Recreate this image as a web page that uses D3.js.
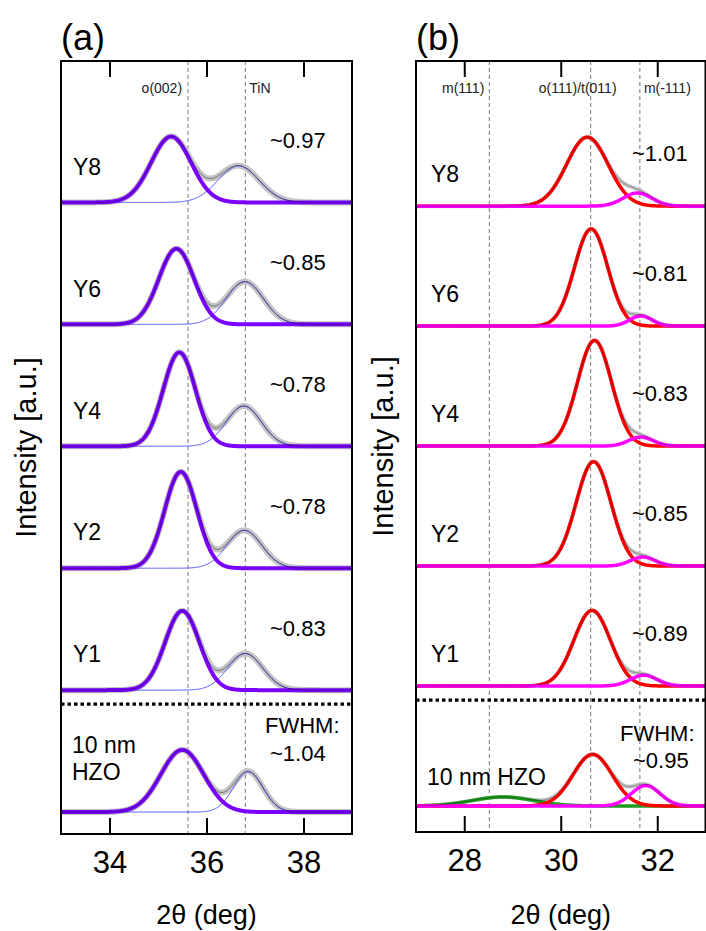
<!DOCTYPE html>
<html>
<head>
<meta charset="utf-8">
<script src="https://cdnjs.cloudflare.com/ajax/libs/d3/7.8.5/d3.min.js"></script>
<style>
  html, body { margin: 0; padding: 0; background: #fff; }
  svg { display: block; font-family: "Liberation Sans", Arial, sans-serif; }
</style>
</head>
<body>
<svg id="chart" width="706" height="931"></svg>
<script>
// ---------------- DATA ----------------
// Panel (a): o(002) + TiN peaks
const samplesA = ["Y8", "Y6", "Y4", "Y2", "Y1", "10 nm HZO"];
const offsetsA = [5, 4, 3, 2, 1, 0];
const o002Center = [35.27, 35.38, 35.44, 35.47, 35.50, 35.50];
const o002Height = [0.54, 0.62, 0.77, 0.79, 0.65, 0.51];
const o002Fwhm   = [0.97, 0.85, 0.78, 0.78, 0.83, 1.04];
const tinCenter  = [36.66, 36.79, 36.77, 36.78, 36.80, 36.86];
const tinHeight  = [0.30, 0.35, 0.33, 0.31, 0.30, 0.33];
const tinFwhm    = [1.00, 0.90, 0.85, 0.85, 0.85, 0.72];
const fwhmLabelsA = ["~0.97", "~0.85", "~0.78", "~0.78", "~0.83", "~1.04"];
const refLinesA = [35.62, 36.80];
const phaseLabelsA = ["o(002)", "TiN"];
const ticksA = [34, 36, 38];
const domainA = [33, 39];
const sepA = 0.885;

// Panel (b): m(111), o(111)/t(011), m(-111) peaks
const samplesB = ["Y8", "Y6", "Y4", "Y2", "Y1", "10 nm HZO"];
const offsetsB = [5, 4, 3, 2, 1, 0];
const o111Center = [30.55, 30.63, 30.70, 30.68, 30.65, 30.66];
const o111Height = [0.575, 0.81, 0.88, 0.87, 0.63, 0.43];
const o111Fwhm   = [1.01, 0.81, 0.83, 0.85, 0.89, 0.95];
const m111bCenter = [31.59, 31.66, 31.66, 31.70, 31.72, 31.76];
const m111bHeight = [0.11, 0.085, 0.075, 0.075, 0.09, 0.17];
const m111bFwhm   = [0.70, 0.55, 0.60, 0.60, 0.65, 0.70];
const m111Center = [null, null, null, null, null, 28.80];
const m111Height = [0, 0, 0, 0, 0, 0.075];
const m111Fwhm   = [1, 1, 1, 1, 1, 1.50];
const fwhmLabelsB = ["~1.01", "~0.81", "~0.83", "~0.85", "~0.89", "~0.95"];
const refLinesB = [28.52, 30.62, 31.64];
const phaseLabelsB = ["m(111)", "o(111)/t(011)", "m(-111)"];
const ticksB = [28, 30, 32];
const domainB = [27, 33];
const sepB = 0.883;

// ---------------- DRAWING ----------------
const svg = d3.select("#chart");
const FONT = '"Liberation Sans", Arial, sans-serif';

function gauss(x, c, h, fwhm) {
  if (c === null || h === 0) return 0;
  const s = fwhm / 2.3548;
  return h * Math.exp(-0.5 * ((x - c) / s) * ((x - c) / s));
}

function drawPanel(cfg) {
  const { id, px0, px1, py0, py1, xDomain, yDomain } = cfg;
  const x = d3.scaleLinear().domain(xDomain).range([px0, px1]);
  const y = d3.scaleLinear().domain(yDomain).range([py1, py0]);
  const g = svg.append("g");

  const clipId = "clip-" + id;
  svg.append("clipPath").attr("id", clipId)
    .append("rect").attr("x", px0).attr("y", py0)
    .attr("width", px1 - px0).attr("height", py1 - py0);

  const plot = g.append("g").attr("clip-path", `url(#${clipId})`);

  // reference dashed lines
  plot.selectAll("line.ref").data(cfg.refLines).enter().append("line")
    .attr("x1", d => x(d)).attr("x2", d => x(d))
    .attr("y1", py0).attr("y2", py1)
    .attr("stroke", "#777").attr("stroke-width", 1)
    .attr("stroke-dasharray", "4,3");

  // separator
  plot.append("line")
    .attr("x1", px0).attr("x2", px1)
    .attr("y1", y(cfg.sep)).attr("y2", y(cfg.sep))
    .attr("stroke", "#000").attr("stroke-width", 3.2)
    .attr("stroke-dasharray", "3.5,3");

  const xs = d3.range(0, 601).map(i => xDomain[0] + (xDomain[1] - xDomain[0]) * i / 600);

  cfg.offsets.forEach((off, i) => {
    const comps = cfg.components.map(c => ({
      color: c.color, width: c.width, opacity: c.opacity || 1,
      f: xv => gauss(xv, c.center[i], c.height[i], c.fwhm[i]),
      show: c.center[i] !== null
    }));
    const total = xv => comps.reduce((s, c) => s + c.f(xv), 0);
    const line = fn => d3.line().x(d => x(d)).y(d => y(off + fn(d)))(xs);

    // measured data band (grey)
    plot.append("path").attr("d", line(total))
      .attr("fill", "none").attr("stroke", "#c4c4c4")
      .attr("stroke-width", cfg.grayWidth).attr("stroke-linejoin", "round");

    comps.forEach(c => {
      if (!c.show) return;
      plot.append("path").attr("d", line(c.f))
        .attr("fill", "none").attr("stroke", c.color)
        .attr("stroke-width", c.width).attr("opacity", c.opacity)
        .attr("stroke-linejoin", "round");
    });

    // cumulative fit
    plot.append("path").attr("d", line(total))
      .attr("fill", "none").attr("stroke", "#000")
      .attr("stroke-width", 0.6).attr("opacity", cfg.sumOpacity);

    // labels
    const by = y(off);
    if (i < cfg.offsets.length - 1) {
      g.append("text").attr("x", cfg.sampleX).attr("y", by - cfg.sampleDy)
        .attr("dy", "0.36em").attr("font-size", 23).attr("fill", "#000")
        .text(cfg.samples[i]);
      g.append("text").attr("x", cfg.valueX).attr("y", by - cfg.valueDy)
        .attr("dy", "0.36em").attr("font-size", 22).attr("fill", "#000")
        .text(cfg.values[i]);
    } else {
      cfg.drawHZO(g, by, cfg.samples[i], cfg.values[i]);
    }
  });

  // phase labels
  cfg.phaseLabelPos.forEach((p, k) => {
    g.append("text").attr("x", x(cfg.refLines[p.ref]) + p.dx).attr("y", py0 + 32)
      .attr("text-anchor", p.anchor).attr("font-size", 14).attr("fill", "#222")
      .text(cfg.phaseLabels[k]);
  });

  // axes: inward ticks top & bottom
  const axB = d3.axisBottom(x).tickValues(cfg.ticks).tickFormat(d3.format("d"))
    .tickSizeInner(-16).tickSizeOuter(0).tickPadding(17);
  const gb = g.append("g").attr("transform", `translate(0,${py1})`).call(axB);
  gb.select(".domain").remove();
  gb.selectAll(".tick line").attr("stroke", "#000").attr("stroke-width", 2);
  gb.selectAll(".tick text").attr("font-size", 31).attr("font-family", FONT).attr("fill", "#000");

  const axT = d3.axisTop(x).tickValues(cfg.ticks).tickSizeInner(-16).tickSizeOuter(0).tickFormat("");
  const gt = g.append("g").attr("transform", `translate(0,${py0})`).call(axT);
  gt.select(".domain").remove();
  gt.selectAll(".tick line").attr("stroke", "#000").attr("stroke-width", 2);

  // frame
  g.append("rect").attr("x", px0).attr("y", py0)
    .attr("width", px1 - px0).attr("height", py1 - py0)
    .attr("fill", "none").attr("stroke", "#000").attr("stroke-width", 2);

  // axis titles
  g.append("text").attr("x", (px0 + px1) / 2).attr("y", 914)
    .attr("dy", "0.36em").attr("text-anchor", "middle").attr("font-size", 27)
    .text("2θ (deg)");
  g.append("text")
    .attr("transform", `translate(${cfg.yTitleX},${(py0 + py1) / 2}) rotate(-90)`)
    .attr("dy", "0.36em").attr("text-anchor", "middle").attr("font-size", 29)
    .text("Intensity [a.u.]");
  // panel letter
  g.append("text").attr("x", px0).attr("y", 37).attr("dy", "0.36em")
    .attr("font-size", 36).text(cfg.letter);
}

drawPanel({
  id: "a", px0: 61, px1: 352, py0: 61, py1: 834,
  xDomain: domainA, yDomain: [-0.18, 6.16],
  offsets: offsetsA, samples: samplesA, values: fwhmLabelsA,
  refLines: refLinesA, phaseLabels: phaseLabelsA,
  phaseLabelPos: [{ ref: 0, dx: -6, anchor: "end" }, { ref: 1, dx: 4, anchor: "start" }],
  ticks: ticksA, sep: sepA, grayWidth: 6, sumOpacity: 0.7,
  sampleX: 73, sampleDy: 36, valueX: 270, valueDy: 62,
  yTitleX: 26, letter: "(a)",
  components: [
    { center: tinCenter, height: tinHeight, fwhm: tinFwhm, color: "#4a4aff", width: 1 },
    { center: o002Center, height: o002Height, fwhm: o002Fwhm, color: "#7a00ff", width: 4 }
  ],
  drawHZO: (g, by, label, val) => {
    const parts = label.split(" ");
    g.append("text").attr("x", 72).attr("y", by - 67).attr("dy", "0.36em")
      .attr("font-size", 23).text(parts[0] + " " + parts[1]);
    g.append("text").attr("x", 72).attr("y", by - 40).attr("dy", "0.36em")
      .attr("font-size", 23).text(parts[2]);
    g.append("text").attr("x", 265).attr("y", by - 87).attr("dy", "0.36em")
      .attr("font-size", 22).text("FWHM:");
    g.append("text").attr("x", 270).attr("y", by - 59).attr("dy", "0.36em")
      .attr("font-size", 22).text(val);
  }
});

drawPanel({
  id: "b", px0: 416, px1: 705.5, py0: 61, py1: 832,
  xDomain: domainB, yDomain: [-0.217, 6.21],
  offsets: offsetsB, samples: samplesB, values: fwhmLabelsB,
  refLines: refLinesB, phaseLabels: phaseLabelsB,
  phaseLabelPos: [{ ref: 0, dx: -5, anchor: "end" }, { ref: 1, dx: -13, anchor: "middle" }, { ref: 2, dx: 4, anchor: "start" }],
  ticks: ticksB, sep: sepB, grayWidth: 4, sumOpacity: 0.5,
  sampleX: 431, sampleDy: 32, valueX: 632, valueDy: 53,
  yTitleX: 383, letter: "(b)",
  components: [
    { center: m111Center, height: m111Height, fwhm: m111Fwhm, color: "#1f9a1f", width: 3.5 },
    { center: o111Center, height: o111Height, fwhm: o111Fwhm, color: "#ff0000", width: 3.5 },
    { center: m111bCenter, height: m111bHeight, fwhm: m111bFwhm, color: "#ff00ff", width: 3.5 }
  ],
  drawHZO: (g, by, label, val) => {
    g.append("text").attr("x", 427).attr("y", by - 29).attr("dy", "0.36em")
      .attr("font-size", 23).text(label);
    g.append("text").attr("x", 620).attr("y", by - 73).attr("dy", "0.36em")
      .attr("font-size", 22).text("FWHM:");
    g.append("text").attr("x", 633).attr("y", by - 46).attr("dy", "0.36em")
      .attr("font-size", 22).text(val);
  }
});
</script>
</body>
</html>
